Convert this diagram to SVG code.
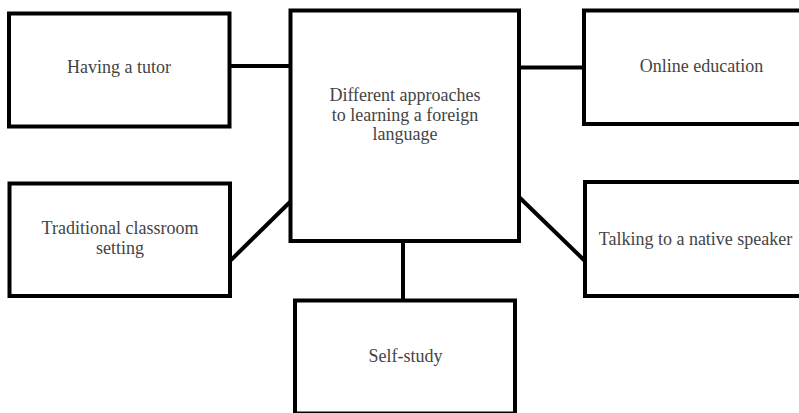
<svg xmlns="http://www.w3.org/2000/svg" width="799" height="413" viewBox="0 0 799 413">
  <style>
    .box { fill: #ffffff; stroke: #000000; stroke-width: 4; }
    .link { stroke: #000000; stroke-width: 4; fill: none; }
    .label { font-family: "Liberation Serif", "Times New Roman", serif; font-size: 18px; fill: #444444; text-anchor: middle; }
  </style>
  <rect width="799" height="413" fill="#ffffff"/>

  <!-- connectors between the central topic and each approach -->
  <g id="connectors">
    <line class="link" x1="231" y1="66" x2="290" y2="66"/>
    <line class="link" x1="519" y1="67.5" x2="584" y2="67.5"/>
    <line class="link" x1="231" y1="260" x2="290" y2="202"/>
    <line class="link" x1="519" y1="197" x2="585" y2="261"/>
    <line class="link" x1="403" y1="241" x2="403" y2="300.5"/>
  </g>

  <g id="center">
    <rect class="box" x="290.5" y="10.5" width="228.5" height="230.5"/>
    <text class="label" x="405" y="101">Different approaches</text>
    <text class="label" x="405" y="120.5">to learning a foreign</text>
    <text class="label" x="405" y="140">language</text>
  </g>

  <g id="tutor">
    <rect class="box" x="9" y="13.5" width="220.5" height="113"/>
    <text class="label" x="119" y="73">Having a tutor</text>
  </g>

  <g id="online">
    <rect class="box" x="584" y="10.5" width="235" height="113.5"/>
    <text class="label" x="701.5" y="72">Online education</text>
  </g>

  <g id="classroom">
    <rect class="box" x="9.5" y="183.5" width="220.5" height="112.5"/>
    <text class="label" x="120" y="234">Traditional classroom</text>
    <text class="label" x="120" y="253.5">setting</text>
  </g>

  <g id="native-speaker">
    <rect class="box" x="585" y="182" width="235" height="114"/>
    <text class="label" x="695.5" y="245">Talking to a native speaker</text>
  </g>

  <g id="self-study">
    <rect class="box" x="295" y="300.5" width="220" height="113"/>
    <text class="label" x="405.5" y="362">Self-study</text>
  </g>
</svg>
